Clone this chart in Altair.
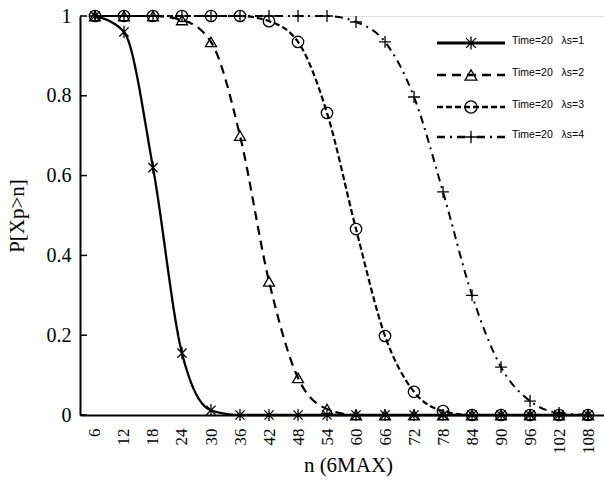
import altair as alt
import pandas as pd

# ---- data ----
n_vals = [6, 12, 18, 24, 30, 36, 42, 48, 54, 60, 66, 72, 78, 84, 90, 96, 102, 108]
p_ls1 = [1.0, 0.96, 0.62, 0.155, 0.012, 0, 0, 0, 0, 0, 0, 0, 0, 0, 0, 0, 0, 0]
p_ls2 = [1.0, 1.0, 1.0, 0.99, 0.935, 0.70, 0.335, 0.093, 0.015, 0, 0, 0, 0, 0, 0, 0, 0, 0]
p_ls3 = [1.0, 1.0, 1.0, 1.0, 1.0, 1.0, 0.987, 0.935, 0.757, 0.466, 0.198, 0.058, 0.01, 0, 0, 0, 0, 0]
p_ls4 = [1.0, 1.0, 1.0, 1.0, 1.0, 1.0, 1.0, 1.0, 1.0, 0.985, 0.935, 0.797, 0.559, 0.30, 0.12, 0.035, 0.005, 0]
series_labels = ["Time=20\u00a0\u00a0\u00a0λs=1", "Time=20\u00a0\u00a0\u00a0λs=2",
                 "Time=20\u00a0\u00a0\u00a0λs=3", "Time=20\u00a0\u00a0\u00a0λs=4"]
y_ticks = [0, 0.2, 0.4, 0.6, 0.8, 1.0]

ASTERISK = "M-0.75,-0.75L0.75,0.75M-0.75,0.75L0.75,-0.75M0,-1L0,1"
PLUS = "M-1,0L1,0M0,-1L0,1"

styles = [
    dict(vals=p_ls1, dash=[1, 0], shape=ASTERISK, size=150, width=2.3, lw=2.8),
    dict(vals=p_ls2, dash=[9, 6], shape="triangle-up", size=120, width=2.2, lw=2.4),
    dict(vals=p_ls3, dash=[6, 3], shape="circle", size=130, width=2.2, lw=2.4),
    dict(vals=p_ls4, dash=[8, 5, 2, 5], shape=PLUS, size=140, width=2.0, lw=2.4),
]

W, H = 524, 399
serif = "Liberation Serif"

xscale = alt.Scale(domain=[2.9, 111.3], nice=False, zero=False)
yscale = alt.Scale(domain=[0, 1], nice=False)

xaxis = alt.Axis(
    values=n_vals, format="d", labelAngle=270, labelAlign="right", labelBaseline="middle",
    labelFont=serif, labelFontSize=17, labelColor="black", labelPadding=13,
    labelOverlap=False, labelFlush=False, ticks=False, tickSize=0, grid=False,
    domainColor="black", domainWidth=2,
    title="n (6MAX)", titleFont=serif, titleFontSize=21, titleFontWeight="normal",
    titleColor="black", titleX=268, titleY=56, titleBaseline="alphabetic", titleAlign="center",
)
yaxis = alt.Axis(
    values=y_ticks, format=".1~f", labelFont=serif, labelFontSize=20, labelColor="black",
    labelPadding=9, labelOverlap=False, labelFlush=False, ticks=False, tickSize=0, grid=False,
    domainColor="black", domainWidth=2,
    title="P[Xp>n]", titleFont=serif, titleFontSize=21, titleFontWeight="normal",
    titleColor="black", titleAngle=270, titleX=-63, titleY=H / 2,
    titleAlign="center", titleBaseline="middle",
)

layers = []
for st in styles:
    df = pd.DataFrame({"n": n_vals, "p": st["vals"]})
    base = alt.Chart(df).encode(
        x=alt.X("n:Q", scale=xscale, axis=xaxis),
        y=alt.Y("p:Q", scale=yscale, axis=yaxis),
    )
    line = base.mark_line(interpolate="monotone", color="black",
                          strokeWidth=st["width"], strokeDash=st["dash"])
    pts = base.mark_point(shape=st["shape"], size=st["size"], filled=False,
                          color="black", strokeWidth=1.3, opacity=1)
    layers += [line, pts]

# inward y ticks
tick_df = pd.DataFrame({"v": y_ticks})
ticks = alt.Chart(tick_df).mark_rule(color="black", strokeWidth=1.5).encode(
    y=alt.Y("v:Q", scale=yscale, axis=yaxis), x=alt.value(0), x2=alt.value(7)
)
layers.append(ticks)

# manual legend
one = pd.DataFrame({"a": [0]})
row_y = [27, 59, 91, 121]
for i, st in enumerate(styles):
    yy = row_y[i]
    layers.append(alt.Chart(one).mark_rule(color="black", strokeWidth=st["lw"],
                                           strokeDash=st["dash"]).encode(
        x=alt.value(357), x2=alt.value(425), y=alt.value(yy)))
    layers.append(alt.Chart(one).mark_point(shape=st["shape"], size=st["size"] + 20,
                                            filled=False, color="black",
                                            strokeWidth=1.3, opacity=1).encode(
        x=alt.value(391), y=alt.value(yy)))
    layers.append(alt.Chart(one).mark_text(text=series_labels[i], align="left",
                                           baseline="middle", font="Liberation Sans",
                                           fontSize=10.5, color="black").encode(
        x=alt.value(432), y=alt.value(yy - 2)))

chart = alt.layer(*layers).properties(
    width=W, height=H,
    autosize=alt.AutoSizeParams(type="none"),
    padding={"left": 80, "top": 16, "right": 0, "bottom": 70},
).configure_view(stroke=None).configure(background="white")

chart.save("out.html", embed_options={"renderer": "svg", "actions": False})
